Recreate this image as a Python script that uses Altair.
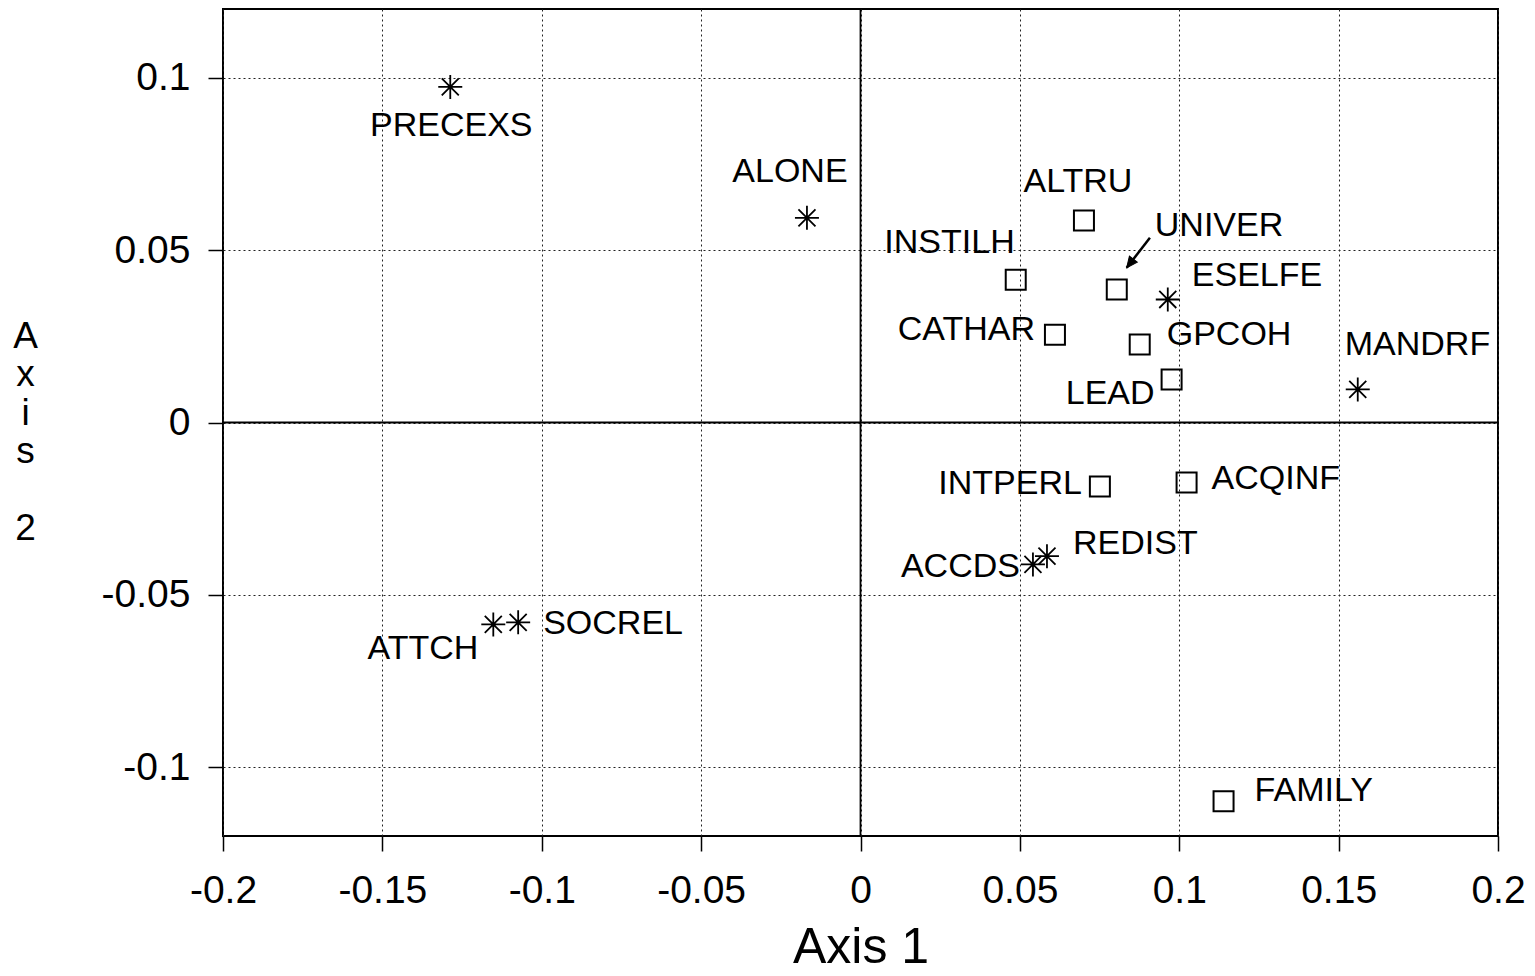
import altair as alt
import pandas as pd

# ---- data ----
names = ["PRECEXS", "ALONE", "ALTRU", "INSTILH", "UNIVER", "ESELFE", "CATHAR",
         "GPCOH", "LEAD", "MANDRF", "INTPERL", "ACQINF", "REDIST", "ACCDS",
         "SOCREL", "ATTCH", "FAMILY"]
axis1 = [-0.1287, -0.0168, 0.0701, 0.0487, 0.0804, 0.0964, 0.0610,
         0.0876, 0.0976, 0.1560, 0.0751, 0.1023, 0.0585, 0.0541,
         -0.1074, -0.1152, 0.1139]
axis2 = [0.0974, 0.0594, 0.0586, 0.0414, 0.0386, 0.0357, 0.0255,
         0.0226, 0.0125, 0.0096, -0.0186, -0.0174, -0.0388, -0.0412,
         -0.0580, -0.0586, -0.1099]
kind = ["star", "star", "square", "square", "square", "star", "square",
        "square", "square", "star", "square", "square", "star", "star",
        "star", "star", "square"]

x_ticks = [-0.2, -0.15, -0.1, -0.05, 0, 0.05, 0.1, 0.15, 0.2]
y_ticks = [-0.1, -0.05, 0, 0.05, 0.1]

# arrow from the UNIVER label to its point
arrow_start = (0.0908, 0.0536)
arrow_end = (0.0835, 0.0449)

# label placement (pixel offsets from each point)
lab_align = ["center", "center", "center", "right", "left", "left", "right",
             "left", "right", "left", "right", "left", "left", "right",
             "left", "right", "left"]
lab_dx = [1, -17, -6, -1, 38, 24, -20, 27, -17, -13, -18, 25, 26, -13, 25, -15, 31]
lab_dy = [39, -46, -39, -37, -63, -23, -5, -10, 15, -44, -3, -3, -12, 3, 2, 25, -10]

FONT = "Liberation Sans"

df = pd.DataFrame({"name": names, "a1": axis1, "a2": axis2, "kind": kind})

label_expr = "datum.value < 0 ? '-' + format(-datum.value, '~g') : format(datum.value, '~g')"

xs = alt.X("a1:Q",
           scale=alt.Scale(domain=[-0.2, 0.2], nice=False, zero=False),
           axis=alt.Axis(values=x_ticks, labelExpr=label_expr, title="Axis 1",
                         titleFontSize=50, titleFontWeight="normal",
                         titleBaseline="alphabetic", titleY=126,
                         labelPadding=20, labelFlush=False))
ys = alt.Y("a2:Q",
           scale=alt.Scale(domain=[-0.12, 0.12], nice=False, zero=False),
           axis=alt.Axis(values=y_ticks, labelExpr=label_expr,
                         title=["A", "x", "i", "s", "\u2800", "2"],
                         titleAngle=0, titleFontSize=37, titleFontWeight="normal",
                         titleLineHeight=38.5, titleAlign="center",
                         titleBaseline="alphabetic", titleX=-198, titleY=338,
                         labelPadding=18, labelFlush=False))

base = alt.Chart(df)

vzero = alt.Chart(pd.DataFrame({"a1": [0.0]})).mark_rule(
    color="black", strokeWidth=1.8).encode(x=xs)
hzero = alt.Chart(pd.DataFrame({"a2": [0.0]})).mark_rule(
    color="black", strokeWidth=1.8).encode(y=ys)

star_path = "M0,-1L0,1M-1,0L1,0M-0.71,-0.71L0.71,0.71M-0.71,0.71L0.71,-0.71"
stars = base.transform_filter(alt.datum.kind == "star").mark_point(
    shape=star_path, size=576, filled=False, stroke="black", strokeWidth=1.8,
    opacity=1).encode(x=xs, y=ys)
squares = base.transform_filter(alt.datum.kind == "square").mark_point(
    shape="square", size=400, filled=False, stroke="black", strokeWidth=2,
    opacity=1).encode(x=xs, y=ys)

arrow_df = pd.DataFrame({"a1": [arrow_start[0]], "a2": [arrow_start[1]],
                         "a1e": [arrow_end[0]], "a2e": [arrow_end[1]]})
arrow_line = alt.Chart(arrow_df).mark_rule(color="black", strokeWidth=2.5).encode(
    x=xs, y=ys, x2="a1e:Q", y2="a2e:Q")
head_df = pd.DataFrame({"a1": [arrow_end[0]], "a2": [arrow_end[1]]})
arrow_head = alt.Chart(head_df).mark_point(
    shape="M0,0L-0.45,1L0.45,1Z", size=484, filled=True, fill="black",
    stroke="black", strokeWidth=1, opacity=1, angle=217.5).encode(x=xs, y=ys)

labels = []
for n, al, dx, dy in zip(names, lab_align, lab_dx, lab_dy):
    labels.append(
        base.transform_filter(alt.datum.name == n).mark_text(
            align=al, baseline="middle", dx=dx, dy=dy, fontSize=34,
            font=FONT, color="black").encode(x=xs, y=ys, text="name:N"))

chart = alt.layer(vzero, hzero, stars, squares, arrow_line, arrow_head, *labels).properties(
    width=1275, height=827, autosize="none",
    padding={"left": 215, "top": 1, "right": 28, "bottom": 137},
    background="white",
).configure_view(stroke="black", strokeWidth=2).configure_axis(
    grid=True, gridColor="#222", gridDash=[2, 3], gridWidth=1, gridOpacity=1,
    domain=False, ticks=True, tickColor="black", tickWidth=1.5, tickSize=15,
    labelFont=FONT, labelFontSize=39, labelColor="black",
    titleFont=FONT, titleColor="black",
)

chart.save("out.html", embed_options={"renderer": "svg", "actions": False})
